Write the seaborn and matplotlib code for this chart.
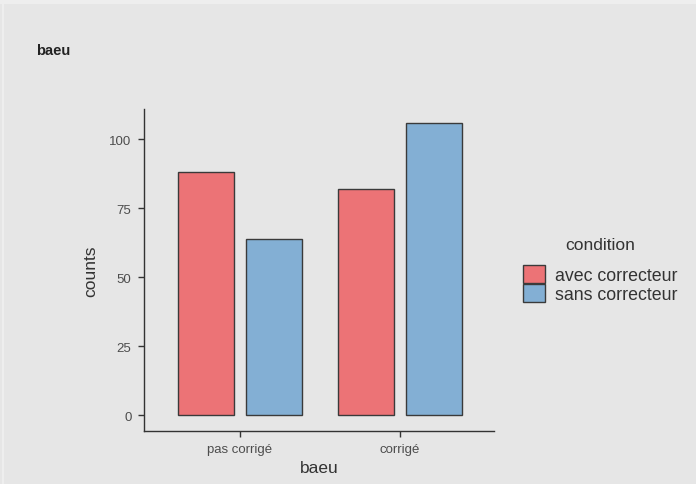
import numpy as np
import pandas as pd
import seaborn as sns
import matplotlib.pyplot as plt
from matplotlib.patches import Rectangle

categories = ["pas corrigé", "corrigé"]
conditions = ["avec correcteur", "sans correcteur"]
avec_counts = [88, 82]
sans_counts = [64, 106]

df = pd.DataFrame({
    "baeu": categories * 2,
    "condition": [conditions[0]] * 2 + [conditions[1]] * 2,
    "counts": avec_counts + sans_counts,
})

bg = "#e6e6e6"
palette = {"avec correcteur": "#ec7376", "sans correcteur": "#83afd4"}

sns.set_style("white")
plt.rcParams["font.family"] = ["Liberation Sans", "DejaVu Sans"]

fig = plt.figure(figsize=(6.96, 4.85), dpi=100, facecolor=bg)
# light screenshot border at top / left
fig.patches.append(Rectangle((0, 1 - 5 / 485), 1, 5 / 485, transform=fig.transFigure,
                             facecolor="#eeeeee", edgecolor="none", zorder=0))
fig.patches.append(Rectangle((2 / 696, 0), 2 / 696, 1 - 5 / 485, transform=fig.transFigure,
                             facecolor="#eeeeee", edgecolor="none", zorder=0))

ax = fig.add_axes([144 / 696, 1 - 432 / 485, (494 - 144) / 696, (432 - 110) / 485])
ax.set_facecolor(bg)

sns.barplot(data=df, x="baeu", y="counts", hue="condition", order=categories,
            hue_order=conditions, palette=palette, width=0.85, gap=0.176,
            edgecolor="#3a3a3a", linewidth=1.0, saturation=1, ax=ax)

ax.set_xlim(-0.6, 1.59)
ax.set_ylim(-5.8, 111)
ax.set_yticks([0, 25, 50, 75, 100])
for s in ["top", "right"]:
    ax.spines[s].set_visible(False)
for s in ["left", "bottom"]:
    ax.spines[s].set_color("#333333")
    ax.spines[s].set_linewidth(1.0)
ax.tick_params(axis="both", bottom=True, left=True, direction="out", length=4, width=1,
               color="#333333", labelsize=9.5, labelcolor="#4d4d4d", pad=5)
ax.set_xlabel("baeu", fontsize=12.5, color="#333333", labelpad=3)
ax.set_ylabel("counts", fontsize=12.5, color="#333333", labelpad=8)

leg = ax.legend(title="condition", loc="center left",
                bbox_to_anchor=(511 / 696, 1 - 271 / 485), bbox_transform=fig.transFigure,
                frameon=False, fontsize=12.8, title_fontsize=12.5,
                handlelength=1.2, handleheight=1.2, labelspacing=0.0,
                handletextpad=0.55, borderpad=0.2)
leg._legend_box.sep = 9  # space between title and keys
leg.get_title().set_color("#333333")
for t in leg.get_texts():
    t.set_color("#333333")

fig.text(36 / 696, 1 - 51 / 485, "baeu", fontsize=10.5, fontweight="bold",
         color="#222222", va="center", ha="left")

fig.savefig("out.png", dpi=100, facecolor=bg)
